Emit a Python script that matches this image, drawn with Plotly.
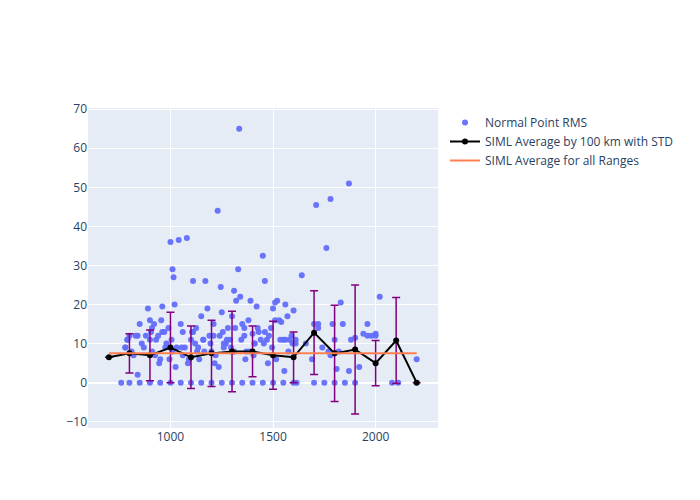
import plotly.graph_objects as go

# Normal point RMS (range km, rms)
pts_x = [760,780,790,800,810,830,840,850,870,880,890,900,905,910,920,930,940,950,955,960,970,980,990,1000,1005,1010,1015,1020,1030,1040,1050,1060,1070,1080,1090,1100,1110,1120,1125,1130,1140,1150,1160,1170,1180,1190,1200,1210,1220,1230,1240,1245,1250,1260,1270,1280,1290,1300,1310,1320,1330,1335,1340,1350,1360,1370,1380,1390,1400,1410,1420,1430,1440,1450,1460,1470,1480,1490,1500,1510,1520,1530,1540,1550,1560,1570,1580,1590,1600,1610,1640,1660,1690,1700,1710,1720,1740,1760,1770,1780,1790,1800,1810,1830,1840,1870,1880,1900,1920,1940,1960,1980,2000,2020,2080,2110,2200,
         790,820,860,900,925,945,975,995,1025,1055,1085,1105,1135,1165,1195,1215,1235,1255,1275,1295,1315,1345,1365,1385,1405,1425,1455,1475,1495,1515,1535,1555,1575,1595,1615,
         800,850,900,950,1000,1050,1100,1150,1200,1250,1300,1350,1400,1450,1500,1550,1600,1700,1750,1800,1850,1900,2000,
         780,840,910,960,1010,1060,1110,1160,1210,1260,1310,1360,1410,1460,1510,1560,1610,1720,1780,1820,1870,1960,2010]
pts_y = [0,9,11,12,8,12,2,15,9,12,19,16,13,8,15,11,12,6,16,19.5,13,10,14,36,11,29,27,20,9,36.5,15,13,9,37,6,11,26,10,14,8,6,17,11,26,19,12,8,15,7,44,12,24.5,18,9,10,14,11,17,23.5,21,29,65,22,15,12,8,16,21,12.5,10,19.5,13,11,32.5,26,11,12,14,19,20.5,21,16,15.5,11,20,17,11,12,18.5,11,27.5,10,6,15,45.5,15,9,34.5,8,47,15,11,3.5,20.5,15,51,11,11.5,4,12.5,15,12,12.5,22,0,0,
         6,11,7,10,11,7,5,9,6,4,9,5,13,9,8,10,5,4,13,11,9,14,11,6,8,7,14,10,5,9,6,11,3,8,10,
         0,0,0,0,0,0,0,0,0,0,0,0,0,0,0,0,0,0,0,0,0,0,0,
         12,9,12,14,13,8,7,13,11,12,10,8,14,10,13,16,11,10,14,7,8,3,12]

avg_x = [700,800,900,1000,1100,1200,1300,1400,1500,1600,1700,1800,1900,2000,2100,2200]
avg_y = [6.5,7.5,7,9,6.5,7.5,8,8,7,6.5,12.8,7.5,8.5,5,10.8,0]
avg_std = [0,5,6.5,9,8,8.5,10.3,6.5,8.7,6.5,10.7,12.3,16.5,5.8,11,0]

all_x = [700,2200]
all_y = [7.5,7.5]

fig = go.Figure()
fig.add_trace(go.Scatter(x=pts_x, y=pts_y, mode="markers", name="Normal Point RMS",
                         marker=dict(color="#636efa", size=6, opacity=0.95)))
fig.add_trace(go.Scatter(x=avg_x, y=avg_y, mode="lines+markers", name="SIML Average by 100 km with STD",
                         line=dict(color="black", width=2), marker=dict(color="black", size=6),
                         error_y=dict(type="data", array=avg_std, color="purple", thickness=1.5, width=4)))
fig.add_trace(go.Scatter(x=all_x, y=all_y, mode="lines", name="SIML Average for all Ranges",
                         line=dict(color="#ff7f50", width=2)))
fig.update_layout(width=700, height=500, template="plotly",
                  margin=dict(l=80, r=270, t=100, b=80),
                  legend=dict(x=1.02, y=1, font=dict(size=12)))
fig.update_xaxes(range=[598, 2304], tickvals=[1000,1500,2000])
fig.update_yaxes(range=[-11.6, 70.3], tickvals=[-10,0,10,20,30,40,50,60,70])
fig.write_html("out.html")
